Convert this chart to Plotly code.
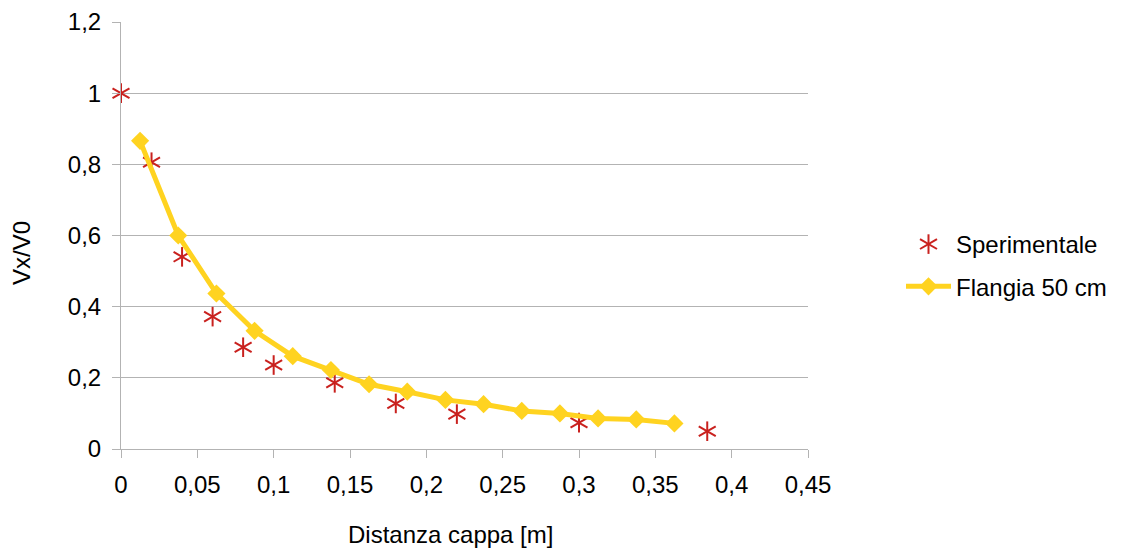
import plotly.graph_objects as go

# Measured data: distance from the hood vs. velocity ratio
sper_x = [0.0, 0.02, 0.04, 0.06, 0.08, 0.10, 0.14, 0.18, 0.22, 0.30, 0.384]
sper_y = [1.0, 0.806, 0.54, 0.372, 0.286, 0.236, 0.186, 0.128, 0.098, 0.074, 0.05]

# Model curve: 50 cm flange
flan_x = [0.0125, 0.0375, 0.0625, 0.0875, 0.1125, 0.1375, 0.1625, 0.1875,
          0.2125, 0.2375, 0.2625, 0.2875, 0.3125, 0.3375, 0.3625]
flan_y = [0.866, 0.600, 0.437, 0.332, 0.261, 0.222, 0.182, 0.161,
          0.138, 0.126, 0.107, 0.100, 0.086, 0.083, 0.072]

x_ticks = [0, 0.05, 0.1, 0.15, 0.2, 0.25, 0.3, 0.35, 0.4, 0.45]
y_ticks = [0, 0.2, 0.4, 0.6, 0.8, 1.0, 1.2]

RED = "#C9211E"
YELLOW = "#FFD320"
FONT = "Liberation Sans"

fig = go.Figure()

# six-armed asterisk built from three rotated line markers
arm_angles = [0, 60, -60]
legends = ["legend", "legend2", "legend3"]
for ang, lg in zip(arm_angles, legends):
    fig.add_trace(go.Scatter(
        x=sper_x, y=sper_y, mode="markers", name="Sperimentale",
        legend=lg, legendgroup="sper", cliponaxis=False,
        marker=dict(symbol="line-ns-open", size=14, angle=ang,
                    color=RED, line=dict(color=RED, width=2)),
        hoverinfo="x+y",
    ))

fig.add_trace(go.Scatter(
    x=flan_x, y=flan_y, mode="lines+markers", name="Flangia 50 cm",
    legend="legend", legendgroup="flan", cliponaxis=False,
    line=dict(color=YELLOW, width=5),
    marker=dict(symbol="diamond", size=14, color=YELLOW),
))

L, R, T, B = 121, 320, 22, 105
W, H = 1128, 554
plot_w = W - L - R
plot_h = H - T - B


def px_x(px):
    return (px - L) / plot_w


def px_y(py):
    return (H - B - py) / plot_h


legend_common = dict(
    x=px_x(901), y=px_y(222), xanchor="left", yanchor="top",
    bgcolor="rgba(0,0,0,0)", borderwidth=0,
    traceorder="grouped", tracegroupgap=8,
    itemwidth=45,
)

title_font = dict(family=FONT, size=24, color="#000000")

fig.update_layout(
    width=W, height=H,
    margin=dict(l=L, r=R, t=T, b=B, autoexpand=False),
    paper_bgcolor="white", plot_bgcolor="white",
    separators=",.",
    font=dict(family=FONT, size=24, color="#000000"),
    showlegend=True,
    legend=dict(**legend_common, font=dict(family=FONT, size=24, color="#000000")),
    legend2=dict(**legend_common, font=dict(family=FONT, size=24, color="rgba(0,0,0,0)")),
    legend3=dict(**legend_common, font=dict(family=FONT, size=24, color="rgba(0,0,0,0)")),
    xaxis=dict(
        range=[0, 0.45], tickvals=x_ticks, showgrid=False, zeroline=False,
        showline=True, linecolor="#b3b3b3", linewidth=1, automargin=False,
        ticks="outside", ticklen=8, tickcolor="#b3b3b3", tickwidth=1,
        ticklabelstandoff=6,
        tickfont=dict(family=FONT, size=24, color="#000000"),
    ),
    yaxis=dict(
        range=[0, 1.2], tickvals=y_ticks, showgrid=True, gridcolor="#b3b3b3",
        gridwidth=1, zeroline=False, automargin=False,
        showline=True, linecolor="#b3b3b3", linewidth=1,
        ticks="outside", ticklen=8, tickcolor="#b3b3b3", tickwidth=1,
        ticklabelstandoff=6,
        tickfont=dict(family=FONT, size=24, color="#000000"),
    ),
    annotations=[
        dict(text="Distanza cappa [m]", xref="paper", yref="paper",
             x=px_x(450), y=px_y(534), xanchor="center", yanchor="middle",
             showarrow=False, font=title_font),
        dict(text="Vx/V0", xref="paper", yref="paper", textangle=-90,
             x=px_x(22), y=px_y(253), xanchor="center", yanchor="middle",
             showarrow=False, font=title_font),
    ],
)

fig.write_html("out.html")
